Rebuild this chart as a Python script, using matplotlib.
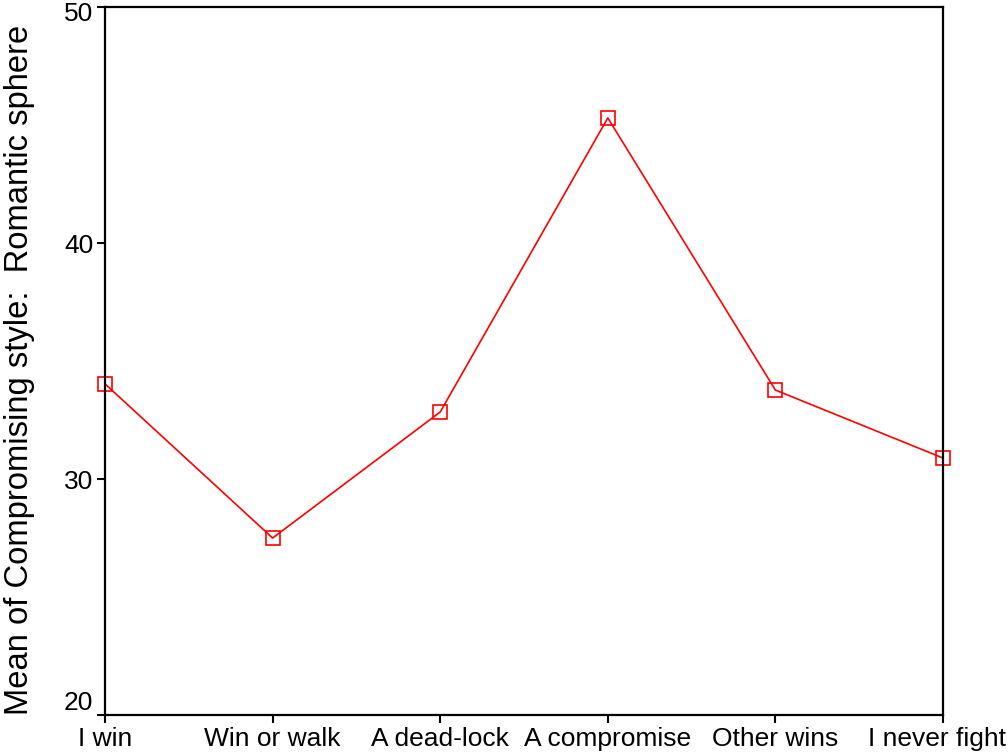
import matplotlib
matplotlib.use("Agg")
import matplotlib.pyplot as plt
import matplotlib.transforms as mtransforms

plt.rcParams["font.family"] = ["Liberation Sans", "DejaVu Sans"]

# Data
categories = ["I win", "Win or walk", "A dead-lock", "A compromise", "Other wins", "I never fight"]
means = [34.03, 27.5, 32.84, 45.3, 33.77, 30.89]
yticks = [20, 30, 40, 50]

fig = plt.figure(figsize=(10.08, 7.54), dpi=100)
ax = fig.add_axes([0.1042, 0.0517, 0.8313, 0.939])

x = list(range(len(categories)))
ax.plot(x, means, color="#ff0000", linewidth=1.2, marker="s", markersize=10,
        markerfacecolor="none", markeredgecolor="#ff0000", markeredgewidth=1.2,
        clip_on=False)

ax.set_xlim(0, len(categories) - 1)
ax.set_ylim(20, 50)
ax.set_xticks(x)
ax.set_xticklabels(categories, fontsize=19)
ax.set_yticks(yticks)
ax.set_yticklabels([str(t) for t in yticks], fontsize=19)
ax.tick_params(axis="both", direction="out", length=5.5, width=1.5, color="black", pad=3)

def nudge(label, dx, dy):
    # shift a tick label by a few pixels
    label.set_transform(label.get_transform() +
                        mtransforms.ScaledTranslation(dx / 100, dy / 100, fig.dpi_scale_trans))

# end labels sit slightly inside the figure
ylabs = ax.get_yticklabels()
nudge(ylabs[0], 0, 15)
nudge(ylabs[-1], 0, -4)
nudge(ax.get_xticklabels()[-1], -6, 0)

for side in ["left", "right", "top", "bottom"]:
    ax.spines[side].set_linewidth(1.6)
    ax.spines[side].set_color("black")

ax.set_ylabel("Mean of Compromising style:  Romantic sphere", fontsize=23.6)
ax.yaxis.set_label_coords(-0.083, 0.487)

fig.savefig("out.png", dpi=100)
